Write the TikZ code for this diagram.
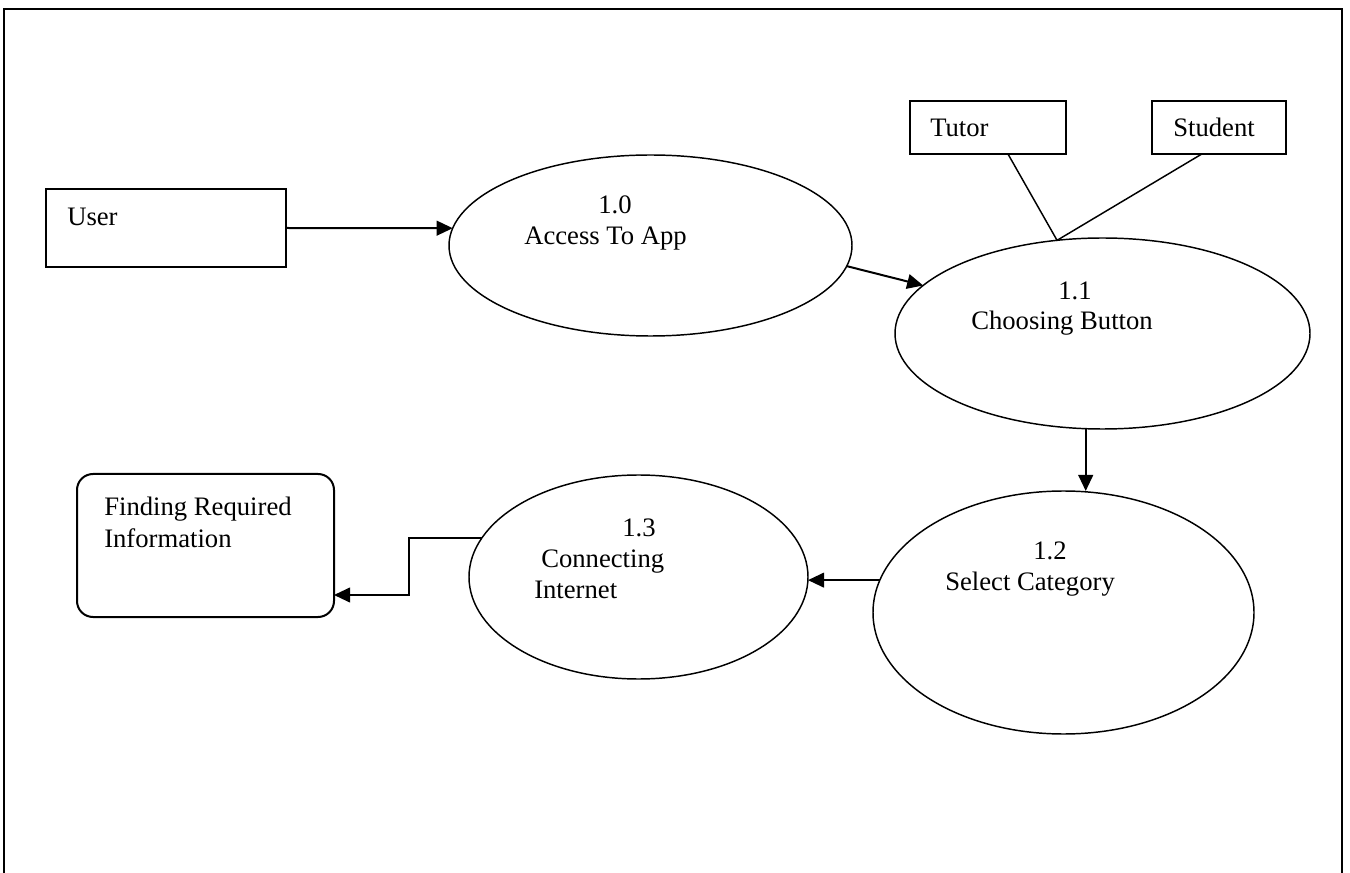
\documentclass[tikz,border=0pt]{standalone}
\usepackage{fontspec}
\setmainfont{Liberation Serif}
\usetikzlibrary{shapes.geometric,arrows.meta}

\tikzset{
  txt/.style={anchor=base west, inner sep=0pt, font=\fontsize{20}{24}\selectfont},
  proc/.style={draw, ellipse, line width=1.1pt, inner sep=0pt, outer sep=0pt},
  ent/.style={draw, rectangle, line width=1.5pt, inner sep=0pt, outer sep=0pt},
  flow/.style={line width=1.5pt, -{Triangle[length=12pt,width=11pt]}},
  link/.style={line width=1.1pt}
}

\begin{document}
\begin{tikzpicture}[x=0.75pt,y=0.75pt,yscale=-1,xscale=1]
\useasboundingbox (0,0) rectangle (1350,873);

%Frame
\draw [line width=1.8pt] (4,873) -- (4,9) -- (1342,9) -- (1342,873) ;

%Shape: Rectangle
\node [ent, minimum width=180pt, minimum height=58.5pt] (user) at (166,228) {};
\node [ent, minimum width=117pt, minimum height=39.75pt] (tutor) at (988,127.5) {};
\node [ent, minimum width=100.5pt, minimum height=39.75pt] (student) at (1219,127.5) {};
\node [ent, rounded corners=12pt, minimum width=192.75pt, minimum height=107.25pt] (finding) at (205.5,545.5) {};

%Shape: Ellipse
\node [proc, minimum width=302.25pt, minimum height=135.75pt] (e10) at (650.5,245.5) {};
\node [proc, minimum width=311.25pt, minimum height=143.25pt] (e11) at (1102.5,333.5) {};
\node [proc, minimum width=285.75pt, minimum height=182.25pt] (e12) at (1063.5,612.5) {};
\node [proc, minimum width=254.25pt, minimum height=153pt] (e13) at (638.5,577) {};

%Straight Lines
\draw [flow] (user.east) -- (e10.175) ;
\draw [flow] (e10.-6) -- (e11.165) ;
\draw [flow] (e11.-100) -- (e11.-100 |- e12.north) ;
\draw [flow] (e12.170) -- (e13.east |- e12.170) ;
\coordinate (bend) at (409,595) ;
\draw [flow] (e13.166) -| (bend) -- (finding.east |- bend) ;
\draw [link] (tutor.-53) -- (e11.116) -- (student.-123) ;

% Text Node
\node [txt] (usertxt) at (67,226) {User};
\node [txt] (tutortxt) at (930,137) {Tutor};
\node [txt] (studenttxt) at (1173,137) {Student};
\node [txt] (findtxta) at (104,516) {Finding Required};
\node [txt] (findtxtb) at (104,547) {Information};
% Text Node
\node [txt] (n10) at (598,214) {1.0};
\node [txt] (t10) at (524,245) {Access To App};
\node [txt] (n11) at (1058,300) {1.1};
\node [txt] (t11) at (971,330) {Choosing Button};
\node [txt] (n12) at (1033,559) {1.2};
\node [txt] (t12) at (945,590) {Select Category};
\node [txt] (n13) at (622,537) {1.3};
\node [txt] (t13a) at (541,567) {Connecting};
\node [txt] (t13b) at (534,598) {Internet};

\end{tikzpicture}
\end{document}
